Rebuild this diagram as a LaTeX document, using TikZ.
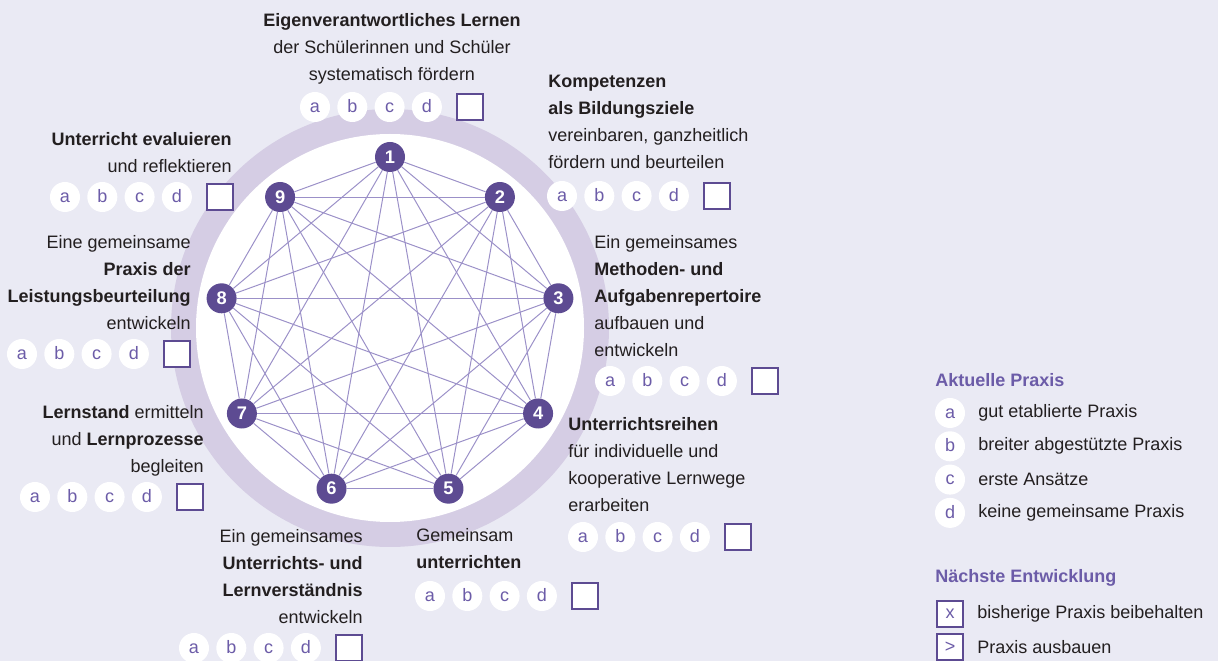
\documentclass[tikz,border=0pt]{standalone}
\usepackage{fontspec}
\setmainfont{Liberation Sans}
\usepackage{xcolor}
\usepackage{tikz}
\usetikzlibrary{calc,positioning}
\definecolor{bgcol}{HTML}{EAEAF4}
\definecolor{ringcol}{HTML}{D5CDE4}
\definecolor{darkvio}{HTML}{5D4B92}
\definecolor{linevio}{HTML}{9B90C8}
\definecolor{txtvio}{HTML}{6C5CA8}
\definecolor{txtdark}{HTML}{231F20}
\tikzset{
  num_n/.style = {circle, fill=darkvio, text=white, inner sep=0pt, minimum size=0.75cm, font=\bfseries\fontsize{13}{13}\selectfont},
  edge_l/.style = {draw=linevio, line width=0.7pt},
  opt_c/.style = {circle, fill=white, text=txtvio, inner sep=0pt, minimum size=0.75cm, text height=1.6ex, text depth=0.2ex, font=\fontsize{12.8}{14}\selectfont},
  opt_b/.style = {rectangle, draw=darkvio, fill=white, line width=1pt, inner sep=0pt, minimum size=0.65cm, text=txtvio, font=\fontsize{12.8}{14}\selectfont},
  lbl/.style = {inner sep=0pt, text=txtdark, font=\fontsize{12.8}{19.2}\selectfont},
  lbl_l/.style = {lbl, align=left, anchor=north west},
  lbl_r/.style = {lbl, align=right, anchor=north east},
  lbl_c/.style = {lbl, align=center, anchor=north},
  lgd_h/.style = {inner sep=0pt, anchor=west, text=txtvio, font=\bfseries\fontsize{12.8}{14}\selectfont},
  lgd_t/.style = {inner sep=0pt, anchor=west, text=txtdark, font=\fontsize{12.8}{14}\selectfont}
}
% row of answer circles a-d and an empty box
\newcommand\optrow[3]{%
  \foreach \l [count=\n from 0] in {a,b,c,d}
    \node[opt_c] (#1\l) at ($(#2,#3)+(\n*37.3,0)$) {\l};
  \node[opt_b] (#1s) at ($(#2,#3)+(155,0)$) {};
}

\begin{document}
\begin{tikzpicture}[x=0.025cm, y=-0.025cm]
  \fill[bgcol] (0,0) rectangle (1218,661);
  \useasboundingbox (0,0) rectangle (1218,661);
  \coordinate (ctr) at (390,328);
  \fill[ringcol] (ctr) circle (219);
  \fill[white] (ctr) circle (194);

  % numbered fields
  \foreach \i in {1,...,9}
    \node[num_n] (n\i) at ($(ctr)+({(\i-1)*40-90}:171)$) {\i};
  \foreach \i in {1,...,8} {
    \pgfmathtruncatemacro\k{\i+1}
    \foreach \j in {\k,...,9}
      \draw[edge_l] (n\i) -- (n\j);
  }

  % labels
  \node[lbl_c] (t1) at (392,13) {\textbf{Eigenverantwortliches Lernen}\\der Schülerinnen und Schüler\\systematisch fördern};
  \optrow{o1}{315}{107}
  \node[lbl_l] (t2) at (548,75) {\textbf{Kompetenzen}\\\textbf{als Bildungsziele}\\vereinbaren, ganzheitlich\\fördern und beurteilen};
  \optrow{o2}{562}{196}
  \node[lbl_l] (t3) at (594,235) {Ein gemeinsames\\\textbf{Methoden- und}\\\textbf{Aufgabenrepertoire}\\aufbauen und\\entwickeln};
  \optrow{o3}{610}{381}
  \node[lbl_l] (t4) at (568,417) {\textbf{Unterrichtsreihen}\\für individuelle und\\kooperative Lernwege\\erarbeiten};
  \optrow{o4}{583}{537}
  \node[lbl_l] (t5) at (416,528) {Gemeinsam\\\textbf{unterrichten}};
  \optrow{o5}{430}{596}
  \node[lbl_r] (t6) at (363,529) {Ein gemeinsames\\\textbf{Unterrichts- und}\\\textbf{Lernverständnis}\\entwickeln};
  \optrow{o6}{194}{648}
  \node[lbl_r] (t7) at (204,405) {\textbf{Lernstand} ermitteln\\und \textbf{Lernprozesse}\\begleiten};
  \optrow{o7}{35}{497}
  \node[lbl_r] (t8) at (191,235) {Eine gemeinsame\\\textbf{Praxis der}\\\textbf{Leistungsbeurteilung}\\entwickeln};
  \optrow{o8}{22}{354}
  \node[lbl_r] (t9) at (232,132) {\textbf{Unterricht evaluieren}\\und reflektieren};
  \optrow{o9}{65}{197}

  % legend
  \node[lgd_h] (h1) at (935,380) {Aktuelle Praxis};
  \foreach \l/\txt [count=\n from 0] in {a/gut etablierte Praxis, b/breiter abgestützte Praxis, c/erste Ansätze, d/keine gemeinsame Praxis} {
    \node[opt_c] (k\l) at (950,413+\n*33.3) {\l};
    \node[lgd_t] (kt\l) at (978,413+\n*33.3) {\txt};
  }
  \node[lgd_h] (h2) at (935,578) {Nächste Entwicklung};
  \node[opt_b] (bx) at (950,614) {x};
  \node[lgd_t] (btx) at (977,614) {bisherige Praxis beibehalten};
  \node[opt_b] (bg) at (950,647) {>};
  \node[lgd_t] (btg) at (977,647) {Praxis ausbauen};
\end{tikzpicture}
\end{document}
